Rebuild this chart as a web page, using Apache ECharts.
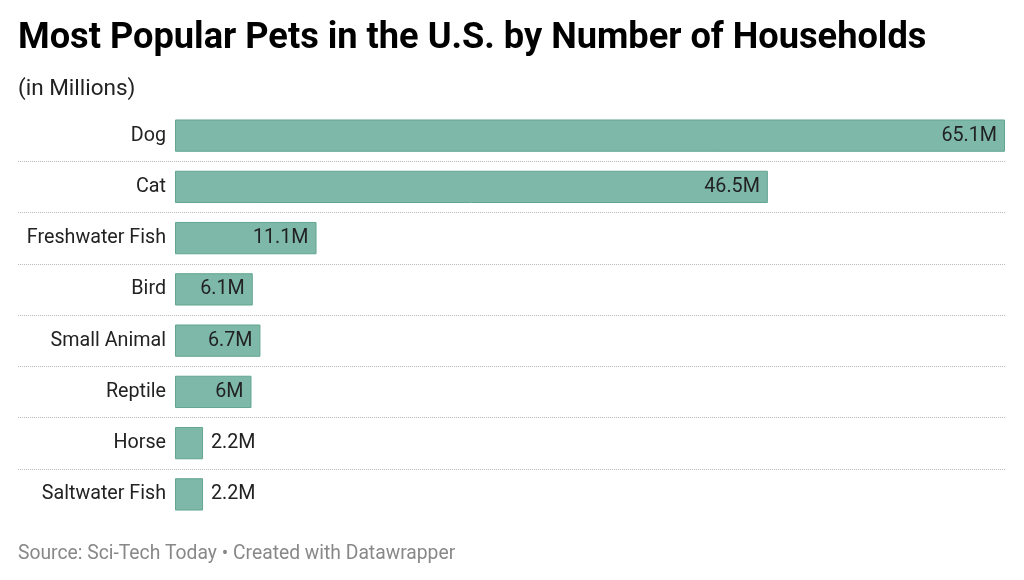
<!DOCTYPE html>
<html>
<head>
<meta charset="utf-8">
<script src="https://cdn.jsdelivr.net/npm/echarts@6/dist/echarts.min.js"></script>
<style>
  html, body { margin: 0; padding: 0; background: #fff; }
  #chart { width: 1024px; height: 580px; }
</style>
</head>
<body>
<div id="chart"></div>
<script>
// 宠物种类（从上到下）
const pets = ['Dog', 'Cat', 'Freshwater Fish', 'Bird', 'Small Animal', 'Reptile', 'Horse', 'Saltwater Fish']
// 家庭数（百万）
const households = [65.1, 46.5, 11.1, 6.1, 6.7, 6, 2.2, 2.2]

const chart = echarts.init(document.getElementById('chart'))

// 短柱的标签放到柱子外面
const barData = households.map((v) => ({
  value: v,
  label: v < 3 ? { position: 'right', distance: 8 } : { position: 'insideRight', distance: 8 }
}))

chart.setOption({
  animation: false,
  textStyle: { fontFamily: 'Roboto' },
  title: [
    {
      text: 'Most Popular Pets in the U.S. by Number of Households',
      left: 18,
      top: 21,
      padding: 0,
      textStyle: { fontSize: 36.2, fontWeight: 'bold', color: '#000', fontFamily: 'Roboto' }
    },
    {
      text: '(in Millions)',
      left: 18,
      top: 78,
      padding: 0,
      textStyle: { fontSize: 22.5, fontWeight: 'normal', color: '#222', fontFamily: 'Roboto' }
    },
    {
      text: 'Source: Sci-Tech Today • Created with Datawrapper',
      left: 18,
      top: 545,
      padding: 0,
      textStyle: { fontSize: 19.3, fontWeight: 'normal', color: '#888', fontFamily: 'Roboto' }
    }
  ],
  grid: [
    { left: 175, right: 19, top: 110, height: 410, containLabel: false },
    { left: 18, right: 19, top: 110, height: 410, containLabel: false }
  ],
  xAxis: [
    { type: 'value', gridIndex: 0, min: 0, max: 65.1, show: false },
    { type: 'value', gridIndex: 1, min: 0, max: 1, show: false }
  ],
  yAxis: [
    {
      type: 'category',
      gridIndex: 0,
      data: pets,
      inverse: true,
      axisLine: { show: false },
      axisTick: { show: false },
      splitLine: { show: false },
      axisLabel: { fontSize: 19.7, color: '#222', margin: 9, fontFamily: 'Roboto' }
    },
    {
      // 分隔虚线
      type: 'category',
      gridIndex: 1,
      data: pets,
      inverse: true,
      axisLine: { show: false },
      axisTick: { show: false },
      axisLabel: { show: false },
      splitLine: {
        show: true,
        showMinLine: false,
        showMaxLine: false,
        lineStyle: { color: '#bbb', type: [1, 1], width: 1 }
      }
    }
  ],
  series: [
    {
      type: 'bar',
      xAxisIndex: 0,
      yAxisIndex: 0,
      data: barData,
      barCategoryGap: '37%',
      itemStyle: { color: '#7db8a8', borderColor: '#63a690', borderWidth: 1 },
      label: {
        show: true,
        formatter: (p) => p.value + 'M',
        fontSize: 19.7,
        color: '#222',
        fontFamily: 'Roboto'
      },
      z: 3
    }
  ]
})
</script>
</body>
</html>
